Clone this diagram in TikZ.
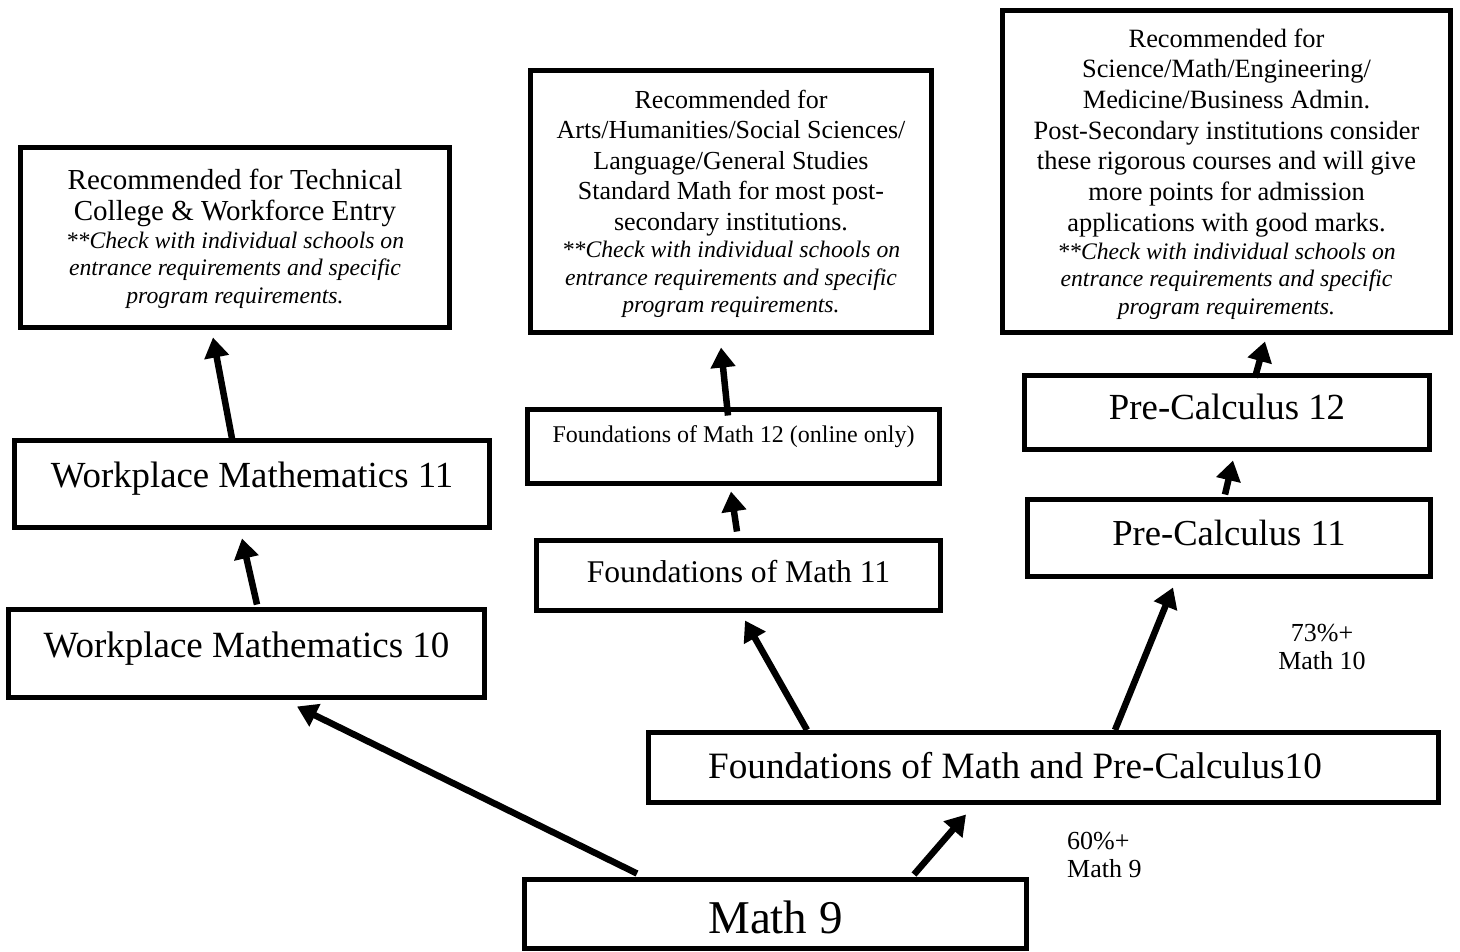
\documentclass[tikz,border=0pt]{standalone}
\usepackage{fontspec}
\setmainfont{Liberation Serif}
\usetikzlibrary{arrows.meta,calc}
\newcommand\fsz[2]{\fontsize{#1}{#2}\selectfont}
\begin{document}
\begin{tikzpicture}[x=1pt,y=-1pt,
  box/.style={draw, line width=5pt, inner sep=0pt, anchor=base},
  bigbox/.style={draw, line width=5pt, inner sep=0pt, align=flush center},
  arr/.style={line width=6.5pt, -{Triangle[length=20pt,width=24pt]}},
  lbl/.style={inner sep=0pt, font=\fsz{26}{28}}]
\useasboundingbox (0,0) rectangle (1460,952);

% recommendation boxes
\node[bigbox, minimum width=429pt, minimum height=180pt, text width=420pt, font=\fsz{29}{31.5}] (boxA) at (235,237.5)
  {\rule{0pt}{23pt}Recommended for Technical\\College \& Workforce Entry\par
   \fsz{23.7}{27.5}\itshape **Check with individual schools on\\entrance requirements and specific\\program requirements.\par};
\node[bigbox, minimum width=401pt, minimum height=262pt, text width=395pt, font=\fsz{26}{30.5}] (boxB) at (731,201.5)
  {\rule{0pt}{23pt}Recommended for\\Arts/Humanities/Social Sciences/\\Language/General Studies\\Standard Math for most post-\\secondary institutions.\par
   \fsz{23.7}{27.5}\itshape **Check with individual schools on\\entrance requirements and specific\\program requirements.\par};
\node[bigbox, minimum width=448pt, minimum height=322pt, text width=440pt, font=\fsz{26.4}{30.7}] (boxC) at (1226.5,171.5)
  {\rule{0pt}{24pt}Recommended for\\Science/Math/Engineering/\\Medicine/Business Admin.\\Post-Secondary institutions consider\\these rigorous courses and will give\\more points for admission\\applications with good marks.\par
   \fsz{23.7}{27.8}\itshape **Check with individual schools on\\entrance requirements and specific\\program requirements.\par};

% course boxes
\node[box, minimum width=475pt, text height=46.5pt, text depth=40.5pt, font=\fsz{36.8}{40}] (wm11) at (252,487) {Workplace Mathematics 11};
\node[box, minimum width=476pt, text height=47.5pt, text depth=40.5pt, font=\fsz{37}{40}] (wm10) at (246.5,657) {Workplace Mathematics 10};
\node[box, minimum width=412pt, text height=32.5pt, text depth=41.5pt, font=\fsz{24}{27}] (fm12) at (733.5,442) {Foundations of Math 12 (online only)};
\node[box, minimum width=404pt, text height=41.5pt, text depth=28.5pt, font=\fsz{31.6}{35}] (fm11) at (738.5,582) {Foundations of Math 11};
\node[box, minimum width=405pt, text height=43.5pt, text depth=30.5pt, font=\fsz{36.8}{40}] (pc12) at (1227,419) {Pre-Calculus 12};
\node[box, minimum width=403pt, text height=45.5pt, text depth=31.5pt, font=\fsz{36.6}{40}] (pc11) at (1229,545) {Pre-Calculus 11};
\node[box, minimum width=790pt, text height=45.5pt, text depth=24.5pt, font=\fsz{37.2}{40}] (fmpc10) at (1043.5,778) {Foundations of Math and Pre-Calculus10\hspace*{57pt}};
\node[box, minimum width=502pt, text height=53.5pt, text depth=15.5pt, font=\fsz{47}{50}] (math9) at (775.5,933) {Math 9};

% labels
\node[lbl, align=center, anchor=north] (l73) at (1322,624) {73\%+\\Math 10};
\node[lbl, align=left, anchor=north west] (l60) at (1067,832) {60\%+\\Math 9};

% connectors
\draw[arr] ($(math9.north)+(-138.5,-3.5)$) -- ($(wm10.south)+(50.5,6.5)$);
\draw[arr] ($(math9.north)+(138.5,-2.5)$) -- ($(fmpc10.south)+(-77.5,9.5)$);
\draw[arr] ($(fmpc10.north)+(-236.5,0)$) -- ($(fm11.south)+(6.5,7.5)$);
\draw[arr] ($(fmpc10.north)+(71.5,0)$) -- ($(pc11.south)+(-56,8.5)$);
\draw[arr] ($(wm10.north)+(10.5,-2.5)$) -- ($(wm11.south)+(-10,8.5)$);
\draw[arr] ($(wm11.north)+(-20,0.5)$) -- ($(boxA.south)+(-22,7.5)$);
\draw[arr] ($(fm11.north)+(-1.5,-6.5)$) -- ($(fm12.south)+(-2.5,5.5)$);
\draw[arr] ($(fm12.north)+(-5.5,8.5)$) -- ($(boxB.south)+(-10,12.5)$);
\draw[arr] ($(pc11.north)+(-4,-2.5)$) -- ($(pc12.south)+(6,8.5)$);
\draw[arr] ($(pc12.north)+(28,4.5)$) -- ($(boxC.south)+(38.5,6.5)$);
\end{tikzpicture}
\end{document}
